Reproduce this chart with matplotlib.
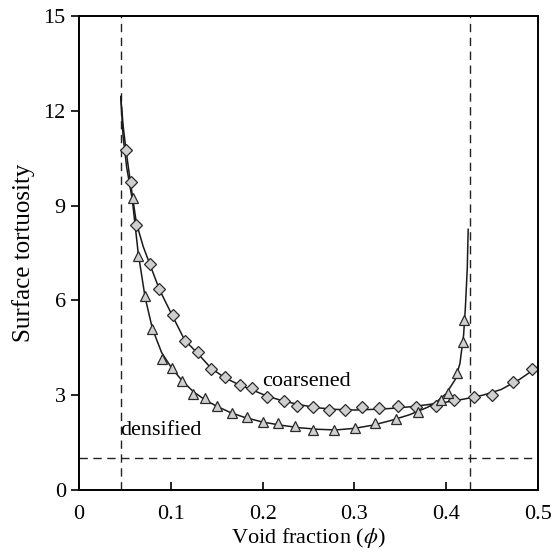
import matplotlib
matplotlib.use("Agg")
import matplotlib.pyplot as plt

plt.rcParams['font.family'] = ['Liberation Serif', 'DejaVu Serif']
plt.rcParams['mathtext.fontset'] = 'stix'

# fitted curves
coarse_fit_x = [0.0455, 0.048, 0.051, 0.056, 0.0625, 0.07, 0.0775, 0.0875, 0.102, 0.115,
                0.130, 0.144, 0.159, 0.175, 0.19, 0.205, 0.222, 0.24, 0.26, 0.28,
                0.30, 0.32, 0.34, 0.36, 0.38, 0.40, 0.42, 0.44, 0.46, 0.48, 0.50]
coarse_fit_y = [12.45, 11.55, 10.8, 9.75, 8.45, 7.7, 7.12, 6.35, 5.5, 4.75,
                4.3, 3.85, 3.55, 3.32, 3.15, 2.97, 2.82, 2.7, 2.6, 2.55,
                2.53, 2.55, 2.58, 2.63, 2.7, 2.78, 2.88, 3.0, 3.18, 3.5, 3.9]

dense_fit_x = [0.0455, 0.048, 0.052, 0.058, 0.0645, 0.072, 0.08, 0.09, 0.10, 0.1125,
               0.125, 0.1375, 0.15, 0.165, 0.18, 0.20, 0.22, 0.24, 0.26, 0.28,
               0.30, 0.32, 0.34, 0.36, 0.38, 0.39, 0.40, 0.41, 0.415, 0.419,
               0.421, 0.423, 0.424]
dense_fit_y = [12.45, 11.2, 10.2, 9.2, 7.5, 6.1, 5.1, 4.35, 3.9, 3.45,
               3.1, 2.85, 2.65, 2.45, 2.3, 2.15, 2.05, 1.97, 1.92, 1.9,
               1.95, 2.05, 2.2, 2.38, 2.62, 2.8, 3.05, 3.5, 4.0, 4.9,
               5.8, 7.0, 8.25]

# simulation points
coarse_x = [0.0512, 0.0563, 0.062, 0.0773, 0.0873, 0.102, 0.1157, 0.130, 0.144, 0.159,
            0.175, 0.189, 0.205, 0.223, 0.238, 0.255, 0.272, 0.290, 0.308, 0.327,
            0.348, 0.367, 0.389, 0.4085, 0.430, 0.450, 0.473, 0.494]
coarse_y = [10.76, 9.75, 8.4, 7.15, 6.35, 5.53, 4.7, 4.36, 3.82, 3.59,
            3.33, 3.22, 2.95, 2.8, 2.66, 2.64, 2.54, 2.54, 2.63, 2.59,
            2.66, 2.62, 2.66, 2.85, 2.93, 3.0, 3.43, 3.82]

dense_x = [0.0585, 0.0646, 0.0719, 0.0794, 0.0905, 0.101, 0.1125, 0.1245, 0.137, 0.150,
           0.1663, 0.1826, 0.2008, 0.217, 0.2353, 0.2553, 0.2778, 0.3007, 0.3224, 0.345,
           0.3697, 0.394, 0.402, 0.4114, 0.4187, 0.4194]
dense_y = [9.25, 7.4, 6.13, 5.1, 4.15, 3.87, 3.46, 3.04, 2.9, 2.66,
           2.42, 2.3, 2.16, 2.11, 2.03, 1.9, 1.9, 1.95, 2.11, 2.25,
           2.46, 2.85, 3.08, 3.69, 4.69, 5.38]

phi_low = 0.046
phi_high = 0.426
tort_min = 1.0

fig = plt.figure(figsize=(5.54, 5.53), dpi=100)
ax = fig.add_axes([0.1426, 0.114, 0.8284, 0.857])

ax.axvline(phi_low, color='#222222', lw=1.0, ls=(0, (6, 4)))
ax.axvline(phi_high, color='#222222', lw=1.0, ls=(0, (6, 4)))
ax.axhline(tort_min, color='#222222', lw=1.0, ls=(0, (6, 4)))

ax.plot(coarse_fit_x, coarse_fit_y, color='#1a1a1a', lw=1.1)
ax.plot(dense_fit_x, dense_fit_y, color='#1a1a1a', lw=1.1)

ax.plot(coarse_x, coarse_y, 'D', ms=6.5, mfc='#cfcfcf', mec='#2a2a2a', mew=0.9)
ax.plot(dense_x, dense_y, '^', ms=7, mfc='#cfcfcf', mec='#2a2a2a', mew=0.9)

ax.text(0.2, 3.42, 'coarsened', fontsize=16, va='center', ha='left')
ax.text(0.045, 1.87, 'densified', fontsize=16, va='center', ha='left')

ax.set_xlim(0, 0.5)
ax.set_ylim(0, 15)
ax.set_xticks([0, 0.1, 0.2, 0.3, 0.4, 0.5])
ax.set_xticklabels(['0', '0.1', '0.2', '0.3', '0.4', '0.5'])
ax.set_yticks([0, 3, 6, 9, 12, 15])
ax.tick_params(axis='x', direction='in', length=6, width=1.2, labelsize=16, pad=11)
ax.tick_params(axis='y', direction='out', length=6, width=1.2, labelsize=16)
for s in ax.spines.values():
    s.set_linewidth(1.4)

ax.set_xlabel('Void fraction ($\\phi$)', fontsize=16, labelpad=1)
ax.set_ylabel('Surface tortuosity', fontsize=18, labelpad=6)

fig.savefig('out.png', dpi=100)
